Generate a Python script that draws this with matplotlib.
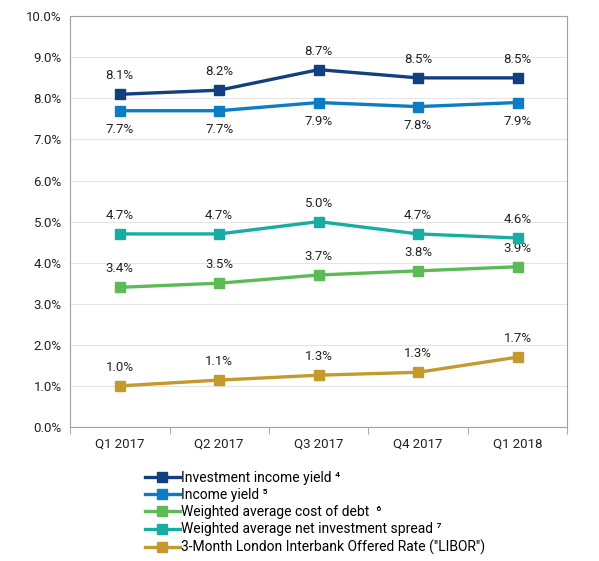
import numpy as np
import matplotlib.pyplot as plt

plt.rcParams['font.family'] = ['Roboto', 'DejaVu Sans']

quarters = ['Q1 2017', 'Q2 2017', 'Q3 2017', 'Q4 2017', 'Q1 2018']
inv_income_yield = [8.1, 8.2, 8.7, 8.5, 8.5]
income_yield = [7.7, 7.7, 7.9, 7.8, 7.9]
cost_of_debt = [3.4, 3.5, 3.7, 3.8, 3.9]
net_spread = [4.7, 4.7, 5.0, 4.7, 4.6]
libor = [1.0, 1.14, 1.26, 1.33, 1.7]
libor_labels = [1.0, 1.1, 1.3, 1.3, 1.7]

series = [
    ('Investment income yield \u2074', inv_income_yield, inv_income_yield, '#12407e', 1),
    ('Income yield \u2075', income_yield, income_yield, '#0b7dc4', -1),
    ('Weighted average cost of debt  \u2076', cost_of_debt, cost_of_debt, '#5cbb55', 1),
    ('Weighted average net investment spread \u2077', net_spread, net_spread, '#17ada2', 1),
    ('3-Month London Interbank Offered Rate ("LIBOR")', libor, libor_labels, '#c49a2d', 1),
]

fig = plt.figure(figsize=(5.99, 5.61), dpi=100)
ax = fig.add_axes([0.117, 0.239, 0.830, 0.732])
x = np.arange(len(quarters))

handles = []
for name, vals, labs, col, side in series:
    h, = ax.plot(x, vals, color=col, lw=2.4, marker='s', ms=7.5, label=name, zorder=3)
    handles.append(h)
    for xi, v, lab in zip(x, vals, labs):
        if side > 0:
            ax.annotate('%.1f%%' % lab, (xi, v), xytext=(0, 8.5), textcoords='offset points',
                        ha='center', va='bottom', fontsize=9.5, color='#222222')
        else:
            ax.annotate('%.1f%%' % lab, (xi, v), xytext=(0, -9), textcoords='offset points',
                        ha='center', va='top', fontsize=9.5, color='#222222')

ax.set_xlim(-0.5, 4.5)
ax.set_ylim(0, 10)
ax.set_yticks(np.arange(0, 11, 1))
ax.set_yticklabels(['%.1f%%' % v for v in np.arange(0, 11, 1)])
ax.set_xticks(x)
ax.set_xticklabels(quarters)
ax.set_xticks(np.arange(-0.5, 5, 1), minor=True)
ax.tick_params(axis='x', which='major', length=0, pad=8, labelsize=9.5, colors='#222222')
ax.tick_params(axis='x', which='minor', length=5, color='#999999')
ax.tick_params(axis='y', length=0, pad=6, labelsize=9.5, colors='#222222')
ax.grid(axis='y', color='#e4e4e4', lw=0.8)
ax.set_axisbelow(True)
for s in ax.spines.values():
    s.set_color('#a0a0a0')

fig.legend(handles, [s[0] for s in series],
           loc='upper left', bbox_to_anchor=(0.242, 0.16), frameon=False,
           fontsize=10, handlelength=2.5, handletextpad=0.1, labelspacing=0.22,
           borderaxespad=0, borderpad=0)

fig.savefig('out.png', dpi=100)
